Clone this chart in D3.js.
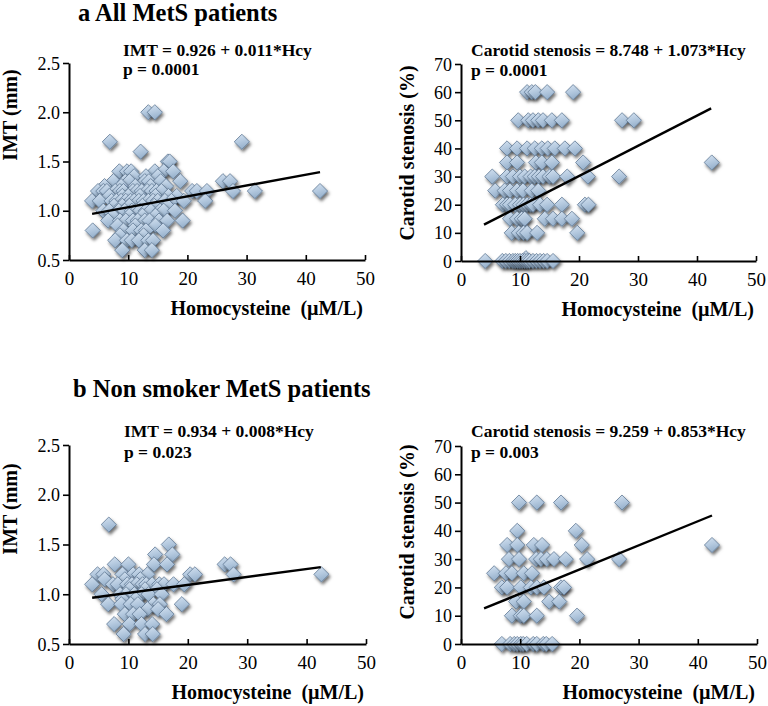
<!DOCTYPE html>
<html><head><meta charset="utf-8">
<script src="https://cdn.jsdelivr.net/npm/d3@7"></script>
<style>
body{margin:0;background:#fff}
svg{display:block}
text{font-family:"Liberation Serif","Tinos","DejaVu Serif",serif;fill:#000;white-space:pre}
</style></head>
<body><svg id="c" width="768" height="706"></svg>
<script>
// ---------- data ----------
const xTicks = [0, 10, 20, 30, 40, 50];
const imtTicks = [0.5, 1.0, 1.5, 2.0, 2.5];
const stenTicks = [0, 10, 20, 30, 40, 50, 60, 70];

// Panel a, IMT: IMT levels and Hcy values at each level
const aImtLevels = [2.0, 1.7, 1.6, 1.5, 1.4, 1.35, 1.3, 1.25, 1.2, 1.15, 1.1, 1.05, 1.0, 0.95, 0.9, 0.85, 0.8, 0.75, 0.7, 0.6];
const aImtHcy = [
  [13.4, 14.5],
  [6.9, 29.2],
  [12.1],
  [16.7, 17.0],
  [8.5, 9.8, 10.5, 14.5, 16.0, 17.6],
  [11.0, 13.0, 15.0],
  [7.5, 9.5, 10.2, 12.8, 13.5, 15.5, 18.8, 26.0, 27.2],
  [6.0, 8.8, 11.2, 13.8, 16.4],
  [4.9, 5.8, 6.4, 7.8, 8.6, 9.2, 10.8, 11.5, 12.3, 13.2, 14.0, 14.8, 15.6, 20.8, 21.6, 23.3, 27.7, 31.4, 42.4],
  [6.8, 9.0, 10.0, 12.0, 14.6, 16.8, 18.2],
  [3.9, 5.2, 7.2, 8.0, 8.8, 9.6, 10.4, 11.0, 11.8, 12.6, 13.4, 14.2, 15.0, 16.2, 17.3, 19.4, 23.0],
  [7.6, 9.0, 10.2, 12.4, 14.4, 16.6],
  [5.8, 6.8, 8.4, 9.4, 10.6, 11.4, 12.0, 13.0, 13.8, 15.4, 16.0, 17.9],
  [7.4, 10.2, 12.4, 14.6],
  [6.6, 8.6, 9.6, 10.8, 11.6, 12.8, 13.6, 15.2, 16.6, 19.2],
  [8.2, 11.2, 14.6],
  [4.0, 9.2, 10.8, 12.2, 13.0, 15.9],
  [8.6, 12.6],
  [7.8, 9.8, 10.6, 11.8, 13.4, 14.2],
  [9.0, 12.8, 14.0]
];

// Panel a, carotid stenosis
const aStenLevels = [60, 50, 40, 35, 30, 25, 20, 15, 10, 1, 0];
const aStenHcy = [
  [11.2, 12.0, 12.6, 14.6, 19.0],
  [9.7, 11.4, 12.2, 13.1, 13.9, 15.4, 17.1, 27.3, 29.3],
  [7.8, 9.5, 11.2, 12.5, 13.7, 14.7, 15.9, 17.6, 19.3],
  [7.8, 9.5, 12.7, 13.7, 15.4, 20.7, 42.5],
  [5.3, 7.8, 8.8, 10.0, 10.8, 11.8, 12.5, 13.2, 13.9, 15.0, 15.6, 18.0, 21.5, 26.8],
  [5.8, 7.4, 8.3, 9.5, 10.5, 12.0, 13.1],
  [7.1, 7.8, 8.3, 9.2, 10.0, 10.6, 11.2, 11.8, 12.2, 13.4, 14.6, 17.1, 21.0, 21.6],
  [8.3, 9.5, 10.3, 10.8, 14.2, 15.6, 17.1, 18.8],
  [8.6, 9.8, 10.6, 11.2, 12.9, 19.7],
  [11.0],
  [4.1, 7.0, 7.6, 8.2, 8.8, 9.2, 9.6, 10.0, 10.4, 10.8, 11.2, 11.6, 12.2, 12.8, 13.4, 14.0, 14.6, 15.6]
];

// Panel b, IMT (non smokers)
const bImtLevels = [1.7, 1.5, 1.4, 1.3, 1.2, 1.15, 1.1, 1.05, 1.0, 0.95, 0.9, 0.85, 0.8, 0.7, 0.6];
const bImtHcy = [
  [6.7],
  [16.8],
  [14.5, 17.4],
  [7.7, 10.0, 14.3, 16.5, 26.2, 27.2],
  [4.8, 5.8, 9.0, 10.8, 11.8, 13.2, 20.4, 21.2, 27.7, 42.5],
  [6.0, 9.4, 12.0],
  [3.9, 7.4, 8.2, 9.8, 10.6, 11.4, 12.4, 13.0, 14.0, 15.2, 16.0, 17.6, 19.4],
  [10.2, 12.8, 14.8],
  [5.5, 8.6, 9.6, 11.0, 12.2, 13.4, 15.6],
  [9.0, 11.2],
  [6.6, 8.8, 10.4, 11.6, 14.2, 15.3, 19.0],
  [13.2, 15.0],
  [9.4, 10.8, 11.9, 16.4],
  [7.6, 10.2, 12.2, 14.0],
  [9.2, 12.8, 14.1]
];

// Panel b, carotid stenosis (non smokers)
const bStenLevels = [50, 40, 35, 30, 25, 20, 15, 10, 0];
const bStenHcy = [
  [9.8, 12.8, 16.9, 27.2],
  [9.5, 19.4],
  [7.8, 9.5, 12.3, 13.7, 20.4, 42.4],
  [8.1, 9.8, 12.7, 13.5, 14.5, 15.7, 17.7, 21.3, 26.7],
  [5.6, 7.6, 8.6, 10.6, 12.0],
  [6.9, 7.8, 10.1, 11.8, 12.8, 14.0, 16.9, 17.4],
  [9.3, 10.6, 14.9, 16.6],
  [8.6, 10.1, 10.6, 12.8, 19.6],
  [6.9, 8.3, 9.0, 9.5, 10.1, 10.5, 11.1, 12.2, 12.8, 13.9, 14.4, 15.4]
];

// regression coefficients [intercept, slope] and the Hcy range the fit lines span
const aImtFit = [0.926, 0.011];
const aStenFit = [8.748, 1.073];
const bImtFit = [0.934, 0.008];
const bStenFit = [9.259, 0.853];
const fitRange = [3.9, 42.4];

const titles = ["a All MetS patients", "b Non smoker MetS patients"];
const eqTexts = ["IMT = 0.926 + 0.011*Hcy", "Carotid stenosis = 8.748 + 1.073*Hcy",
                 "IMT = 0.934 + 0.008*Hcy", "Carotid stenosis = 9.259 + 0.853*Hcy"];
const pTexts = ["p = 0.0001", "p = 0.0001", "p = 0.023", "p = 0.003"];
const yTitles = ["IMT (mm)", "Carotid stenosis (%)", "IMT (mm)", "Carotid stenosis (%)"];
const xTitle = "Homocysteine  (\u00b5M/L)";

// ---------- drawing ----------
const FONT = "'Liberation Serif', 'Tinos', 'DejaVu Serif', serif";
const svg = d3.select("#c");
const defs = svg.append("defs");
const grad = defs.append("linearGradient").attr("id", "dg")
  .attr("x1", "0").attr("y1", "0").attr("x2", "0.3").attr("y2", "1");
grad.append("stop").attr("offset", "0").attr("stop-color", "#d6e3f1");
grad.append("stop").attr("offset", "0.55").attr("stop-color", "#b4c9df");
grad.append("stop").attr("offset", "1").attr("stop-color", "#97b1cc");
const flt = defs.append("filter").attr("id", "sh")
  .attr("x", "-50%").attr("y", "-50%").attr("width", "200%").attr("height", "200%");
flt.append("feDropShadow").attr("dx", 1.5).attr("dy", 2.5).attr("stdDeviation", 1.6)
  .attr("flood-color", "#000").attr("flood-opacity", 0.55);

function flatten(levels, hcys) {
  const out = [];
  levels.forEach((lv, i) => hcys[i].forEach(h => out.push({x: h, y: lv})));
  return out;
}

const panels = [
  {L: 69, R: 365, T: 63, B: 260, yDom: [0.5, 2.5], yT: imtTicks, fmt: d3.format(".1f"),
   data: flatten(aImtLevels, aImtHcy), fit: aImtFit, eq: 0, eqX: 123, eqY: 56, pY: 75,
   ytx: 17, yty: 115},
  {L: 461, R: 756, T: 64, B: 261, yDom: [0, 70], yT: stenTicks, fmt: d3.format("d"),
   data: flatten(aStenLevels, aStenHcy), fit: aStenFit, eq: 1, eqX: 471, eqY: 56, pY: 76,
   ytx: 414, yty: 153},
  {L: 69, R: 366, T: 445, B: 644, yDom: [0.5, 2.5], yT: imtTicks, fmt: d3.format(".1f"),
   data: flatten(bImtLevels, bImtHcy), fit: bImtFit, eq: 2, eqX: 124, eqY: 437, pY: 458,
   ytx: 17, yty: 509},
  {L: 461, R: 757, T: 446, B: 644, yDom: [0, 70], yT: stenTicks, fmt: d3.format("d"),
   data: flatten(bStenLevels, bStenHcy), fit: bStenFit, eq: 3, eqX: 471, eqY: 437, pY: 458,
   ytx: 414, yty: 532}
];

panels.forEach(p => {
  const g = svg.append("g");
  const x = d3.scaleLinear().domain([0, 50]).range([p.L, p.R]);
  const y = d3.scaleLinear().domain(p.yDom).range([p.B, p.T]);

  // markers
  const s = 7.6;
  g.append("g").selectAll("path").data(p.data).join("path")
    .attr("d", d => `M${x(d.x)},${y(d.y) - s}L${x(d.x) + s},${y(d.y)}L${x(d.x)},${y(d.y) + s}L${x(d.x) - s},${y(d.y)}Z`)
    .attr("fill", "url(#dg)").attr("stroke", "#5f7894").attr("stroke-width", 0.8)
    .attr("filter", "url(#sh)");

  // regression line
  g.append("line")
    .attr("x1", x(fitRange[0])).attr("y1", y(p.fit[0] + p.fit[1] * fitRange[0]))
    .attr("x2", x(fitRange[1])).attr("y2", y(p.fit[0] + p.fit[1] * fitRange[1]))
    .attr("stroke", "#000").attr("stroke-width", 2.4);

  // axes
  const xa = g.append("g").attr("transform", `translate(0,${p.B})`)
    .call(d3.axisBottom(x).tickValues(xTicks).tickSizeInner(-5).tickSizeOuter(0).tickPadding(12));
  const ya = g.append("g").attr("transform", `translate(${p.L},0)`)
    .call(d3.axisLeft(y).tickValues(p.yT).tickFormat(p.fmt).tickSizeInner(6).tickSizeOuter(0).tickPadding(3));
  [xa, ya].forEach(a => {
    a.attr("font-family", FONT);
    a.select(".domain").attr("stroke", "#000").attr("stroke-width", 2);
    a.selectAll(".tick line").attr("stroke", "#000").attr("stroke-width", 1.6);
    a.selectAll("text").attr("font-family", FONT).attr("fill", "#000");
  });
  xa.selectAll("text").attr("font-size", 19).attr("dy", "0.71em");
  ya.selectAll("text").attr("font-size", 18).attr("dy", "0.34em");

  // equation and p
  g.append("text").attr("x", p.eqX).attr("y", p.eqY).attr("font-size", 17.5)
    .attr("font-family", FONT).attr("font-weight", "bold").text(eqTexts[p.eq]);
  g.append("text").attr("x", p.eqX).attr("y", p.pY).attr("font-size", 17.5)
    .attr("font-family", FONT).attr("font-weight", "bold").text(pTexts[p.eq]);

  // axis titles
  g.append("text").attr("x", p.R - 2).attr("y", p.B + 55).attr("text-anchor", "end")
    .attr("font-family", FONT).attr("font-size", 20).attr("font-weight", "bold")
    .attr("xml:space", "preserve").style("white-space", "pre").text(xTitle);
  g.append("text").attr("transform", `translate(${p.ytx},${p.yty}) rotate(-90)`)
    .attr("text-anchor", "middle").attr("font-family", FONT).attr("font-size", 20)
    .attr("font-weight", "bold").text(yTitles[p.eq]);
});

svg.append("text").attr("x", 78).attr("y", 21).attr("font-family", FONT)
  .attr("font-size", 24.5).attr("font-weight", "bold").text(titles[0]);
svg.append("text").attr("x", 73).attr("y", 397).attr("font-family", FONT)
  .attr("font-size", 24.5).attr("font-weight", "bold").text(titles[1]);
</script>
</body></html>
